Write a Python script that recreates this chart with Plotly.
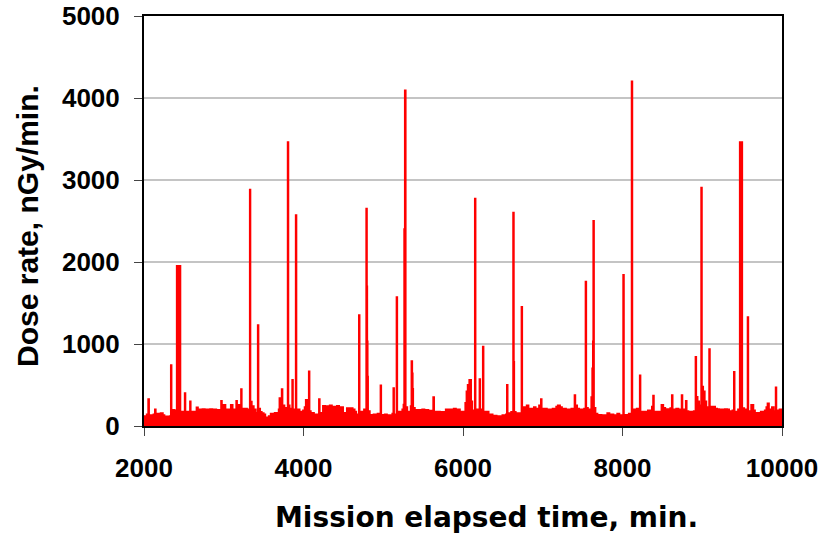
import plotly.graph_objects as go

# Mission elapsed time (min) and dose rate (nGy/min)
minutes = [
    2000, 2020, 2035, 2054, 2062, 2080, 2100, 2120, 2138, 2146, 2165, 2190, 2210, 2235, 2255, 2280,
    2305, 2325, 2338, 2344, 2360, 2380, 2395, 2412, 2455, 2475, 2490, 2512, 2518, 2535, 2555, 2578,
    2584, 2600, 2625, 2645, 2660, 2675, 2690, 2715, 2735, 2760, 2785, 2810, 2830, 2855, 2880, 2905,
    2925, 2950, 2968, 2975, 3000, 3020, 3045, 3070, 3090, 3110, 3135, 3158, 3165, 3185, 3200, 3218,
    3224, 3245, 3265, 3290, 3310, 3328, 3333, 3350, 3375, 3400, 3428, 3434, 3455, 3475, 3500, 3520,
    3545, 3565, 3590, 3615, 3640, 3665, 3690, 3700, 3715, 3728, 3735, 3760, 3780, 3803, 3809, 3825,
    3845, 3860, 3866, 3885, 3904, 3910, 3930, 3950, 3975, 3995, 4015, 4030, 4045, 4068, 4074, 4090,
    4110, 4130, 4150, 4170, 4195, 4202, 4225, 4245, 4270, 4290, 4310, 4330, 4355, 4375, 4400, 4420,
    4445, 4470, 4495, 4520, 4545, 4570, 4590, 4615, 4640, 4660, 4680, 4696, 4702, 4720, 4740, 4760,
    4788, 4794, 4798, 4803, 4808, 4830, 4855, 4880, 4905, 4930, 4950, 4967, 4973, 4995, 5020, 5045,
    5070, 5095, 5115, 5128, 5134, 5150, 5168, 5174, 5195, 5220, 5240, 5255, 5264, 5272, 5280, 5300,
    5325, 5345, 5355, 5362, 5368, 5374, 5395, 5420, 5445, 5465, 5490, 5515, 5540, 5565, 5590, 5610,
    5628, 5636, 5660, 5685, 5710, 5735, 5760, 5785, 5810, 5835, 5860, 5885, 5910, 5935, 5960, 5985,
    6005, 6030, 6045, 6060, 6080, 6100, 6115, 6135, 6150, 6156, 6180, 6208, 6214, 6235, 6250, 6256,
    6275, 6300, 6320, 6345, 6370, 6395, 6420, 6445, 6470, 6495, 6520, 6540, 6552, 6558, 6580, 6605,
    6630, 6636, 6641, 6660, 6685, 6705, 6735, 6741, 6760, 6780, 6800, 6820, 6845, 6865, 6890, 6910,
    6930, 6955, 6978, 6985, 7005, 7030, 7050, 7075, 7100, 7125, 7145, 7170, 7190, 7215, 7240, 7265,
    7290, 7315, 7340, 7360, 7400, 7407, 7430, 7455, 7480, 7505, 7520, 7538, 7544, 7565, 7590, 7610,
    7622, 7630, 7635, 7641, 7660, 7685, 7710, 7735, 7760, 7785, 7810, 7835, 7860, 7885, 7910, 7935,
    7960, 7985, 8010, 8016, 8040, 8060, 8080, 8116, 8122, 8140, 8160, 8180, 8200, 8218, 8224, 8245,
    8270, 8295, 8320, 8345, 8370, 8385, 8392, 8415, 8440, 8465, 8490, 8510, 8535, 8560, 8580, 8600,
    8620, 8627, 8650, 8675, 8700, 8720, 8743, 8750, 8770, 8795, 8803, 8825, 8850, 8875, 8895, 8917,
    8923, 8940, 8960, 8988, 8994, 9010, 9030, 9050, 9070, 9088, 9094, 9115, 9140, 9160, 9185, 9210,
    9235, 9260, 9285, 9310, 9335, 9360, 9380, 9398, 9404, 9425, 9450, 9472, 9500, 9525, 9550, 9570,
    9576, 9595, 9615, 9640, 9660, 9685, 9710, 9735, 9760, 9785, 9805, 9820, 9835, 9855, 9875, 9895,
    9922, 9928, 9950, 9970, 9990, 10000,
]

dose = [
    120, 90, 140, 325, 110, 130, 95, 140, 200, 120, 150, 110, 155, 130, 100, 115,
    90, 120, 740, 150, 195, 160, 190, 1950, 175, 140, 175, 400, 160, 175, 130, 300,
    150, 175, 140, 175, 225, 170, 200, 160, 205, 185, 200, 170, 205, 180, 200, 160,
    195, 140, 305, 200, 255, 190, 200, 160, 255, 200, 170, 305, 230, 255, 180, 447,
    210, 180, 210, 160, 200, 2880, 295, 240, 200, 160, 1230, 210, 170, 155, 140, 105,
    90, 120, 150, 130, 160, 140, 200, 337, 200, 447, 250, 180, 220, 3460, 250, 195,
    210, 560, 200, 180, 2570, 190, 200, 175, 160, 190, 230, 317, 200, 665, 180, 135,
    160, 120, 140, 110, 325, 135, 160, 245, 180, 240, 205, 250, 190, 235, 175, 245,
    200, 230, 135, 160, 215, 180, 215, 200, 175, 140, 120, 1350, 160, 175, 150, 200,
    2650, 1700, 1030, 600, 180, 135, 110, 140, 120, 150, 130, 495, 135, 120, 140, 100,
    130, 115, 150, 460, 140, 120, 1570, 175, 150, 175, 200, 260, 2400, 4090, 230, 175,
    160, 240, 790, 640, 450, 220, 195, 170, 195, 160, 200, 180, 195, 150, 185, 160,
    350, 175, 150, 175, 140, 170, 160, 200, 170, 200, 180, 210, 185, 200, 175, 150,
    175, 280, 420, 500, 560, 300, 190, 175, 2770, 180, 200, 570, 175, 200, 965, 175,
    160, 175, 120, 140, 110, 125, 100, 120, 110, 130, 115, 140, 500, 130, 155, 170,
    2600, 780, 170, 155, 140, 155, 1450, 200, 230, 195, 250, 190, 210, 170, 230, 190,
    210, 250, 325, 210, 180, 210, 170, 200, 185, 210, 170, 235, 250, 230, 200, 210,
    170, 200, 190, 210, 375, 250, 210, 180, 200, 170, 210, 1760, 220, 170, 200, 350,
    700, 1030, 2500, 220, 150, 120, 135, 110, 130, 120, 155, 120, 140, 110, 130, 150,
    120, 130, 1840, 135, 120, 135, 150, 4200, 195, 200, 180, 210, 190, 615, 175, 160,
    175, 150, 190, 165, 235, 370, 175, 165, 175, 150, 255, 220, 180, 205, 190, 215,
    375, 200, 190, 210, 180, 200, 375, 200, 190, 305, 180, 160, 175, 150, 180, 840,
    355, 300, 250, 2905, 480, 420, 300, 200, 230, 935, 235, 200, 235, 210, 205, 180,
    200, 175, 205, 200, 180, 175, 190, 660, 175, 160, 200, 3460, 215, 200, 180, 1325,
    175, 180, 255, 190, 150, 160, 140, 175, 160, 190, 230, 275, 200, 180, 230, 180,
    470, 190, 160, 200, 170, 200,
]

x_ticks = [2000, 4000, 6000, 8000, 10000]
y_ticks = [0, 1000, 2000, 3000, 4000, 5000]

x_title = "Mission elapsed time, min."
y_title = "Dose rate, nGy/min."

fig = go.Figure()
fig.add_trace(go.Scatter(
    x=minutes, y=dose, mode="lines",
    line=dict(color="#ff0000", width=2, shape="hv"),
    fill="tozeroy", fillcolor="#ff0000",
    showlegend=False, hoverinfo="x+y",
))

tick_font = dict(family="Liberation Sans, Arial, sans-serif", size=26, color="#000000", weight="bold")

fig.update_layout(
    width=823, height=535,
    margin=dict(l=144, r=41, t=16, b=109, autoexpand=False),
    paper_bgcolor="white", plot_bgcolor="white",
    showlegend=False,
    xaxis=dict(
        range=[2000, 10000], tickvals=x_ticks, ticktext=[str(v) for v in x_ticks],
        showgrid=False, zeroline=False, automargin=False,
        showline=True, linecolor="#000000", linewidth=2, mirror=True,
        ticks="outside", ticklen=8, tickwidth=1, tickcolor="#444444",
        tickfont=tick_font, ticklabelstandoff=10,
    ),
    yaxis=dict(
        range=[0, 5000], tickvals=y_ticks, ticktext=[str(v) for v in y_ticks],
        showgrid=True, gridcolor="#c4c4c4", gridwidth=1.5, zeroline=False, automargin=False,
        showline=True, linecolor="#000000", linewidth=2, mirror=True,
        ticks="outside", ticklen=8, tickwidth=1, tickcolor="#444444",
        tickfont=tick_font, ticklabelstandoff=9,
    ),
    annotations=[
        dict(text=x_title, xref="paper", yref="paper", x=0.5376, y=-0.222,
             xanchor="center", yanchor="middle", showarrow=False,
             font=dict(family="DejaVu Sans, sans-serif", size=28, color="#000000", weight="bold")),
        dict(text=y_title, xref="paper", yref="paper", x=-0.1818, y=0.488,
             xanchor="center", yanchor="middle", showarrow=False, textangle=-90,
             font=dict(family="Liberation Sans, Arial, sans-serif", size=30, color="#000000", weight="bold")),
    ],
)

fig.write_html("out.html")
